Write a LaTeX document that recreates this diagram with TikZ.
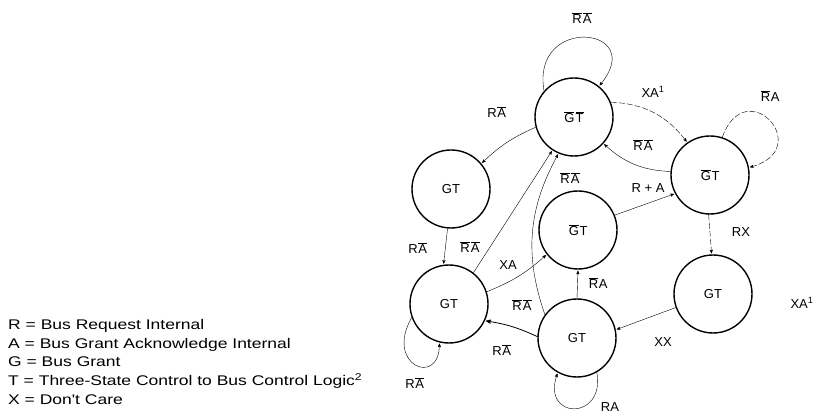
\documentclass[tikz,border=0pt]{standalone}
\usepackage{fontspec}
\setmainfont{Liberation Sans}
\newfontfamily\keyfont[FakeStretch=1.25]{Liberation Sans}
\usepackage{tikz}
\usetikzlibrary{arrows,automata}
\usetikzlibrary{calc,positioning}
\newcommand{\inv}[1]{\kern0.6pt$\overline{\hbox{#1}}$\kern0.6pt}

\begin{document}
\begin{tikzpicture}[>=stealth',shorten >=1pt,auto,x=1pt,y=1pt,
    every state/.style={draw,line width=1.4pt,minimum size=78pt,inner sep=0pt,
        font=\fontsize{13}{15}\selectfont},
    lbl/.style={inner sep=0pt,font=\fontsize{13}{15}\selectfont},
    dsh/.style={dash pattern=on 6pt off 2pt}]

    \useasboundingbox (0,0) rectangle (822,418);

    \node[state] (nGnT-0) at (574,301) {\inv{G}\inv{T}};
    \node[state] (nGT-1)  at (710,243) {\inv{G}T};
    \node[state] (GT-2)   at (451,229) {GT};
    \node[state] (GT-3)   at (449,114) {GT};
    \node[state] (nGT-4)  at (578,188) {\inv{G}T};
    \node[state] (GT-5)   at (577,80)  {GT};
    \node[state] (GT-6)   at (713,124) {GT};

    % transitions
    \path[->] (nGnT-0.195) edge[bend right=10] (GT-2.40);
    \path[->] (GT-2.265) edge (GT-3.98);
    \path[->] (GT-3.52) edge (nGnT-0.237);
    \path[->] (GT-5.144) edge[bend left=24,thin] (nGnT-0.247);
    \path[->] (GT-3.18) edge[bend right=10] (nGT-4.218);
    \path[->] (nGT-4.22) edge (nGT-1.208);
    \path[->] (nGT-1.175) edge[bend left=20] (nGnT-0.318);
    \path[->] (nGnT-0.22) edge[bend left=25,dsh] (nGT-1.125);
    \path[->] (nGT-1.268) edge[dsh] (GT-6.92);
    \path[->] (GT-6.200) edge (GT-5.12);
    \path[->] (GT-5.90) edge (nGT-4.270);
    \path[->] (GT-5.178) edge[bend right=8,thick] (GT-3.335);

    % self loops
    \draw[->] (nGnT-0.139) .. controls +(100:78) and +(50:78) .. (nGnT-0.51);
    \draw[->,dsh] (nGT-1.72) .. controls +(70:70) and +(15:70) .. (nGT-1.11);
    \draw[->] (GT-5.300) .. controls +(280:50) and +(250:50) .. (GT-5.241);
    \draw[->] (GT-3.200) .. controls +(240:55) and +(270:45) .. (GT-3.256);

    % labels
    \node[lbl] (l-top)  at (582,400) {\inv{R}\inv{A}};
    \node[lbl] (l-xa1)  at (653,326) {XA\textsuperscript{1}};
    \node[lbl] (l-back) at (643,273) {\inv{R}\inv{A}};
    \node[lbl] (l-rgt)  at (770,322) {\inv{R}A};
    \node[lbl] (l-ul)   at (497,306) {R\inv{A}};
    \node[lbl] (l-mid)  at (570,240) {\inv{R}\inv{A}};
    \node[lbl] (l-rpa)  at (648,230) {R + A};
    \node[lbl] (l-rx)   at (741,186) {RX};
    \node[lbl] (l-xa2)  at (802,115) {XA\textsuperscript{1}};
    \node[lbl] (l-xx)   at (663,76)  {XX};
    \node[lbl] (l-up)   at (598,135) {\inv{R}A};
    \node[lbl] (l-cur)  at (522,113) {\inv{R}\inv{A}};
    \node[lbl] (l-xa)   at (508,153) {XA};
    \node[lbl] (l-down) at (418,170) {R\inv{A}};
    \node[lbl] (l-diag) at (470,171) {\inv{R}\inv{A}};
    \node[lbl] (l-lft)  at (502,68)  {R\inv{A}};
    \node[lbl] (l-lp1)  at (415,35)  {R\inv{A}};
    \node[lbl] (l-lp2)  at (610,11)  {RA};

    % key
    \node[anchor=north west,inner sep=0pt,align=left,
          font=\keyfont\fontsize{14}{18.7}\selectfont] (key) at (8,99)
        {R = Bus Request Internal\\
         A = Bus Grant Acknowledge Internal\\
         G = Bus Grant\\
         T = Three-State Control to Bus Control Logic\textsuperscript{2}\\
         X = Don't Care};

\end{tikzpicture}
\end{document}
